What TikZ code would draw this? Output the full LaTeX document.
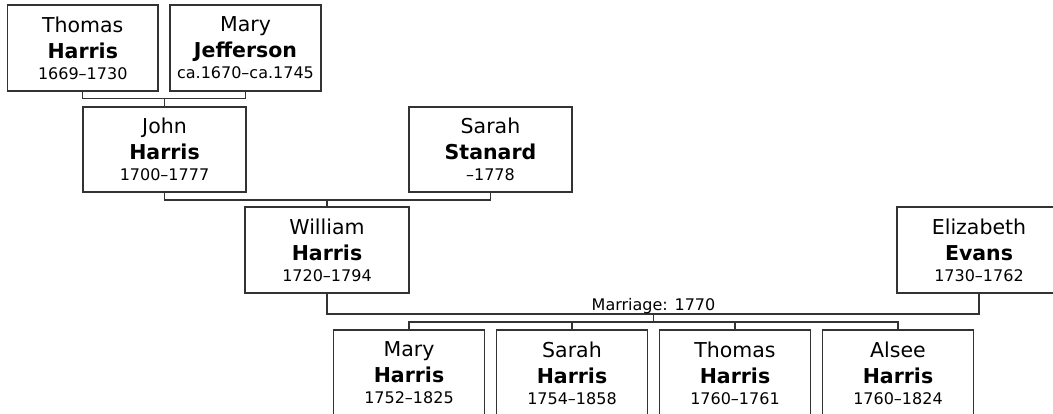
\documentclass[tikz,border=0pt]{standalone}
\usepackage{fontspec}
\setmainfont{DejaVu Sans}
\definecolor{linecol}{HTML}{333333}
\newcommand\yrs[1]{\\[-5pt]{\fontsize{16}{19}\selectfont #1}}
\begin{document}
\begin{tikzpicture}[x=1pt,y=-1pt,
  person/.style={draw=linecol, line width=1.2pt, minimum height=86pt, inner sep=0pt,
    align=center, font=\fontsize{20.5}{26}\selectfont},
  link/.style={draw=linecol, line width=1.2pt},
  lbl/.style={font=\fontsize{16}{19}\selectfont, anchor=base, inner sep=0pt}]
\useasboundingbox (0,0) rectangle (1053,413);
\clip (0,0) rectangle (1053,413);
% generation 1
\node[person, minimum width=150.5pt] (thomas1) at (82.75,48) {Thomas\\\textbf{Harris}\yrs{1669–1730}};
\node[person, minimum width=151pt] (maryj) at (245.5,48) {Mary\\\textbf{Jefferson}\yrs{ca.1670–ca.1745}};
% generation 2
\node[person, minimum width=163pt, minimum height=85pt] (john) at (164.5,149.5) {John\\\textbf{Harris}\yrs{1700–1777}};
\node[person, minimum width=163pt, minimum height=85pt] (sarahs) at (490.5,149.5) {Sarah\\\textbf{Stanard}\yrs{–1778}};
% generation 3
\node[person, minimum width=164pt] (william) at (327,250) {William\\\textbf{Harris}\yrs{1720–1794}};
\node[person, minimum width=164pt] (elizabeth) at (979,250) {Elizabeth\\\textbf{Evans}\yrs{1730–1762}};
% children
\node[person, minimum width=151pt] (maryh) at (409,373) {Mary\\\textbf{Harris}\yrs{1752–1825}};
\node[person, minimum width=151pt] (sarahh) at (572,373) {Sarah\\\textbf{Harris}\yrs{1754–1858}};
\node[person, minimum width=151pt] (thomash) at (735,373) {Thomas\\\textbf{Harris}\yrs{1760–1761}};
\node[person, minimum width=151pt] (alsee) at (898,373) {Alsee\\\textbf{Harris}\yrs{1760–1824}};
% connectors
\coordinate (c1) at (164.5,98.7);
\draw[link] (thomas1.south) |- (c1) -| (maryj.south);
\draw[link] (c1) -- (john.north);
\coordinate (c2) at (327,200);
\draw[link] (john.south) |- (c2) -| (sarahs.south);
\draw[link] (c2) -- (william.north);
\coordinate (m) at (653.5,314);
\draw[link] (william.south) |- (m) -| (elizabeth.south);
\node[lbl] (mlabel) at (653.5,310) {Marriage: 1770};
\coordinate (cb) at (653.5,322);
\draw[link] (m) -- (cb);
\draw[link] (maryh.north) |- (cb) -| (alsee.north);
\draw[link] (sarahh.north) -- (sarahh.north |- cb);
\draw[link] (thomash.north) -- (thomash.north |- cb);
\end{tikzpicture}
\end{document}
